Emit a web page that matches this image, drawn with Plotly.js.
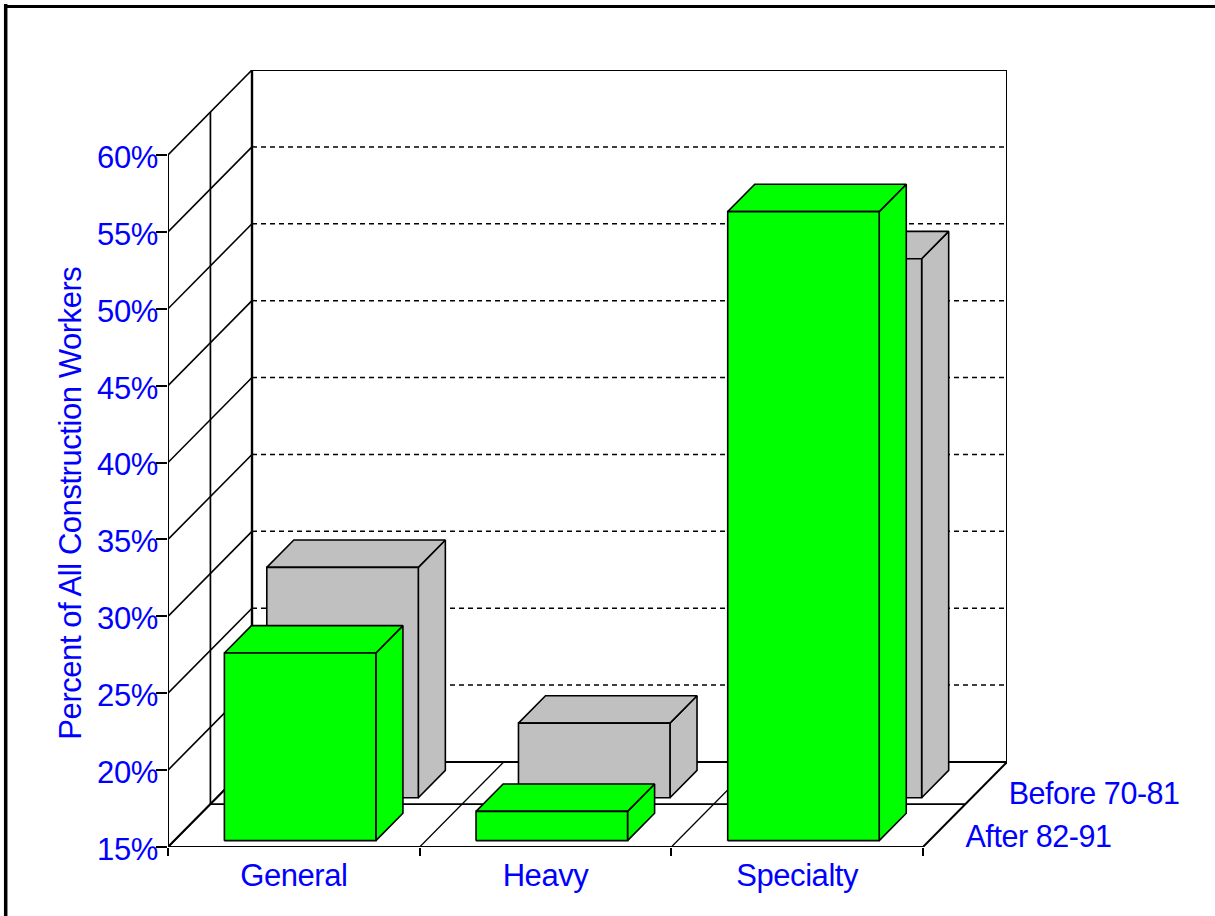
<!DOCTYPE html>
<html>
<head>
<meta charset="utf-8">
<script src="https://cdn.plot.ly/plotly-3.0.1.min.js"></script>
<style>
html,body{margin:0;padding:0;background:#fff}
#chart text{letter-spacing:-0.45px !important}
</style>
</head>
<body>
<div id="chart" style="width:1215px;height:916px"></div>
<script>
const categories = ["General", "Heavy", "Specialty"];
const afterValues = [27.2, 16.9, 55.9];
const beforeValues = [29.98, 19.85, 50.05];
const seriesNames = ["Before 70-81", "After 82-91"];
const yTicks = [15, 20, 25, 30, 35, 40, 45, 50, 55, 60];
const yAxisTitle = "Percent of All Construction Workers";

// Oblique projection: depth d in 0..1 shifts a point along the floor diagonal.
const W = 1215, H = 916;
const L = 168, R = 1007, T = 70, B = 847;
const pxPerCat = 755 / 3, pxPerPct = 692 / 45;
const depthX = 84 / pxPerCat, depthY = 85 / pxPerPct;
const xMax = (R - L) / pxPerCat, yBase = 15, yMax = yBase + (B - T) / pxPerPct;
const P = (x, v, d) => [x + d * depthX, v + d * depthY];

const traces = [];
function poly(points, opt) {
  const pts = points.map(p => P(p[0], p[1], p[2]));
  traces.push(Object.assign({
    type: "scatter", mode: "lines",
    x: pts.map(p => p[0]), y: pts.map(p => p[1]),
    cliponaxis: false, hoverinfo: "skip", showlegend: false,
    line: {color: "#000", width: 1.6}
  }, opt || {}));
}

// Walls and floor frame
poly([[0, 60, 0], [0, 15, 0]], {line: {color: "#000", width: 2}});
poly([[0, 60, 0.505], [0, 15, 0.505], [3, 15, 0.505]], {line: {color: "#000", width: 1.7}});
poly([[0, 15, 1], [0, 60, 1]], {line: {color: "#000", width: 2.4}});
poly([[0, 60, 1], [3, 60, 1], [3, 15, 1], [0, 15, 1]], {line: {color: "#000", width: 2}});
yTicks.forEach(v => poly([[0, v, 0], [0, v, 1]]));
yTicks.slice(1, -1).forEach(v => poly([[0, v, 1], [3, v, 1]], {line: {color: "#000", width: 1.5, dash: "5px,4px"}}));
[0, 1, 2, 3].forEach(i => poly([[i, 15, 0], [i, 15, 1]], {line: {color: "#000", width: i === 0 || i === 3 ? 2 : 1.3}}));
poly([[0, 15, 0], [3, 15, 0]], {line: {color: "#000", width: 2.2}});

// Bars
const barLeft = 0.199, barWidth = 0.602, barDepth = 0.322;
function bar(i, value, d0, color) {
  const x0 = i + barLeft, x1 = x0 + barWidth, d1 = d0 + barDepth;
  const style = {fill: "toself", fillcolor: color};
  poly([[x1, 15, d0], [x1, 15, d1], [x1, value, d1], [x1, value, d0], [x1, 15, d0]], style);
  poly([[x0, value, d0], [x1, value, d0], [x1, value, d1], [x0, value, d1], [x0, value, d0]], style);
  poly([[x0, 15, d0], [x1, 15, d0], [x1, value, d0], [x0, value, d0], [x0, 15, d0]], style);
}
beforeValues.forEach((v, i) => bar(i, v, 0.58, "#C0C0C0"));
afterValues.forEach((v, i) => bar(i, v, 0.075, "#00FF00"));

const font = {family: "'Liberation Sans', Arial, sans-serif", size: 31, color: "#0000FF"};
const legendFont = {family: font.family, size: 30.5, color: font.color};
const px = x => (x - L) / (R - L), py = y => (B - y) / (B - T);
const layout = {
  width: W, height: H,
  margin: {l: L, r: W - R, t: T, b: H - B, pad: 0},
  paper_bgcolor: "#fff", plot_bgcolor: "#fff",
  showlegend: false, hovermode: false,
  font: font,
  xaxis: {
    range: [0, xMax], showgrid: false, zeroline: false, showline: false,
    tickmode: "array", tickvals: [0.5, 1.5, 2.5], ticktext: categories,
    ticks: "outside", ticklen: 1, tickcolor: "rgba(0,0,0,0)", tickfont: font,
    minor: {tickmode: "array", tickvals: [0, 1, 2, 3], ticks: "outside", ticklen: 8, tickwidth: 1.5, tickcolor: "#000", showgrid: false}
  },
  yaxis: {
    range: [yBase, yMax], showgrid: false, zeroline: false, showline: false,
    tickmode: "array", tickvals: yTicks, ticktext: yTicks.map(v => v + "%"),
    ticks: "outside", ticklen: 11, tickwidth: 1.5, tickcolor: "#000", tickfont: font,
    ticklabelstandoff: -8, ticklabelshift: 2
  },
  shapes: [
    {type: "line", xref: "paper", yref: "paper", x0: px(5.7), x1: px(5.7), y0: py(4), y1: py(916), line: {color: "#000", width: 3.5}},
    {type: "line", xref: "paper", yref: "paper", x0: px(4), x1: px(1215), y0: py(6.5), y1: py(6.5), line: {color: "#000", width: 3}}
  ],
  annotations: [
    {text: seriesNames[0], xref: "paper", yref: "paper", x: px(1003.5), y: py(793), xanchor: "left", yanchor: "middle", showarrow: false, font: legendFont},
    {text: seriesNames[1], xref: "paper", yref: "paper", x: px(960.5), y: py(836), xanchor: "left", yanchor: "middle", showarrow: false, font: legendFont},
    {text: yAxisTitle, xref: "paper", yref: "paper", x: px(70.5), y: py(503), xanchor: "center", yanchor: "middle", textangle: -90, showarrow: false, font: font}
  ]
};
Plotly.newPlot("chart", traces, layout, {displayModeBar: false, responsive: false});
</script>
</body>
</html>
